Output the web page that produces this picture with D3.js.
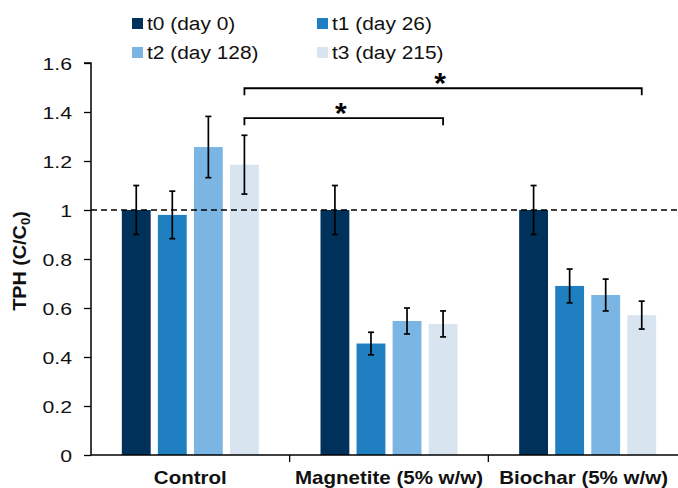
<!DOCTYPE html>
<html>
<head>
<meta charset="utf-8">
<script src="https://cdn.jsdelivr.net/npm/d3@7"></script>
<style>
  body { margin: 0; background: #fff; }
  svg { display: block; font-family: "Liberation Sans", Arial, sans-serif; }
</style>
</head>
<body>
<svg id="chart" width="678" height="488"></svg>
<script>
const categories = ["Control", "Magnetite (5% w/w)", "Biochar (5% w/w)"];
const seriesNames = ["t0 (day 0)", "t1 (day 26)", "t2 (day 128)", "t3 (day 215)"];
const seriesColors = ["#00315a", "#1f7fc0", "#7bb5e3", "#d8e5f1"];
// mean values per category, one entry per series
const meanValues = [
  [1.0, 0.98, 1.257, 1.185],
  [1.0, 0.455, 0.547, 0.535],
  [1.0, 0.69, 0.653, 0.571]
];
const errValues = [
  [0.1, 0.097, 0.125, 0.12],
  [0.1, 0.046, 0.053, 0.053],
  [0.1, 0.069, 0.065, 0.057]
];
const yTicks = [0, 0.2, 0.4, 0.6, 0.8, 1, 1.2, 1.4, 1.6];
// significance brackets: [category, series] of each end
const brackets = [
  { from: [0, 3], to: [1, 3], level: 1.375 },
  { from: [0, 3], to: [2, 3], level: 1.497 }
];

const svg = d3.select("#chart");
const mLeft = 91, mRight = 687, mTop = 63, mBottom = 455;

// the source figure's text is a bit wide, stretch it horizontally about its anchor
function stretch(sel, sx) {
  sel.each(function () {
    const t = d3.select(this);
    const tx = +t.attr("x") || 0, ty = +t.attr("y") || 0;
    t.attr("transform", `translate(${tx},${ty}) scale(${sx},1) translate(${-tx},${-ty})`);
  });
}

const x = d3.scaleBand().domain(d3.range(categories.length)).range([mLeft, mRight]);
const xInner = d3.scaleBand().domain(d3.range(seriesNames.length))
  .range([0, 137]).paddingInner(0.2).paddingOuter(0);
const groupOffset = (x.bandwidth() - 137) / 2;
const y = d3.scaleLinear().domain([0, 1.6]).range([mBottom, mTop]);

const barX = (c, s) => x(c) + groupOffset + xInner(s);
const barMid = (c, s) => barX(c, s) + xInner.bandwidth() / 2;

// y axis
const yAxis = svg.append("g")
  .attr("transform", `translate(${mLeft},0)`)
  .call(d3.axisLeft(y).tickValues(yTicks).tickFormat(d3.format("")).tickSize(7).tickPadding(12));
yAxis.select(".domain").attr("stroke", "#000").attr("stroke-width", 1.5).attr("d", `M-7,${mTop}H0V${mBottom}`);
yAxis.selectAll(".tick line").attr("stroke", "#000").attr("stroke-width", 1.3);
yAxis.selectAll(".tick text").attr("font-size", 17).attr("fill", "#111")
  .attr("font-family", "Liberation Sans, Arial, sans-serif").attr("dy", "0.36em")
  .call(stretch, 1.25);

svg.append("text")
  .attr("transform", `translate(26,${(mTop + mBottom) / 2 + 2}) rotate(-90) scale(1.1,1)`)
  .attr("text-anchor", "middle")
  .attr("font-size", 18).attr("font-weight", "bold").attr("fill", "#111")
  .call(t => {
    t.append("tspan").text("TPH (C/C");
    t.append("tspan").attr("font-size", 12).attr("dy", 4).text("0");
    t.append("tspan").attr("dy", -4).text(")");
  });

// bars
const bars = [];
meanValues.forEach((row, c) => row.forEach((v, s) => bars.push({ c, s, v, e: errValues[c][s] })));

svg.append("g").selectAll("rect").data(bars).join("rect")
  .attr("x", d => barX(d.c, d.s))
  .attr("width", xInner.bandwidth())
  .attr("y", d => y(d.v))
  .attr("height", d => y(0) - y(d.v))
  .attr("fill", d => seriesColors[d.s]);

// reference line at 1
svg.append("line")
  .attr("x1", mLeft).attr("x2", 678)
  .attr("y1", y(1)).attr("y2", y(1))
  .attr("stroke", "#000").attr("stroke-width", 1.6).attr("stroke-dasharray", "6,4");

// error bars
const eb = svg.append("g").attr("stroke", "#000").attr("stroke-width", 1.7);
eb.selectAll("line.v").data(bars).join("line").attr("class", "v")
  .attr("x1", d => barMid(d.c, d.s)).attr("x2", d => barMid(d.c, d.s))
  .attr("y1", d => y(d.v + d.e)).attr("y2", d => y(d.v - d.e));
eb.selectAll("line.t").data(bars).join("line").attr("class", "t")
  .attr("x1", d => barMid(d.c, d.s) - 3).attr("x2", d => barMid(d.c, d.s) + 3)
  .attr("y1", d => y(d.v + d.e)).attr("y2", d => y(d.v + d.e));
eb.selectAll("line.b").data(bars).join("line").attr("class", "b")
  .attr("x1", d => barMid(d.c, d.s) - 3).attr("x2", d => barMid(d.c, d.s) + 3)
  .attr("y1", d => y(d.v - d.e)).attr("y2", d => y(d.v - d.e));

// x axis
svg.append("line")
  .attr("x1", mLeft).attr("x2", 678).attr("y1", mBottom).attr("y2", mBottom)
  .attr("stroke", "#000").attr("stroke-width", 1.5);
svg.append("g").selectAll("line").data(d3.range(1, categories.length)).join("line")
  .attr("x1", d => x(d)).attr("x2", d => x(d))
  .attr("y1", mBottom).attr("y2", mBottom + 7)
  .attr("stroke", "#000").attr("stroke-width", 1.3);
svg.append("g").selectAll("text").data(categories).join("text")
  .attr("x", (d, i) => x(i) + x.bandwidth() / 2 - (i === 2 ? 4 : 0))
  .attr("y", 484)
  .attr("text-anchor", "middle")
  .attr("font-size", 18).attr("font-weight", "bold").attr("fill", "#111")
  .text(d => d)
  .call(stretch, 1.14);

// significance brackets
const br = svg.append("g");
brackets.forEach(b => {
  const x1 = barMid(...b.from), x2 = barMid(...b.to), yy = y(b.level);
  br.append("path")
    .attr("d", `M${x1},${yy + 7}V${yy}H${x2}V${yy + 7}`)
    .attr("fill", "none").attr("stroke", "#000").attr("stroke-width", 1.8);
  br.append("text")
    .attr("x", (x1 + x2) / 2 - 3).attr("y", yy + 5)
    .attr("text-anchor", "middle")
    .attr("font-size", 30).attr("font-weight", "bold")
    .text("*");
});

// legend
const legend = svg.append("g");
seriesNames.forEach((name, i) => {
  const lx = 132 + (i % 2) * 185, ly = 23 + Math.floor(i / 2) * 29;
  legend.append("rect").attr("x", lx).attr("y", ly - 5).attr("width", 11).attr("height", 11)
    .attr("fill", seriesColors[i]);
  legend.append("text").attr("x", lx + 15).attr("y", ly + 7)
    .attr("font-size", 19).attr("fill", "#111").text(name)
    .call(stretch, 1.1);
});
</script>
</body>
</html>
